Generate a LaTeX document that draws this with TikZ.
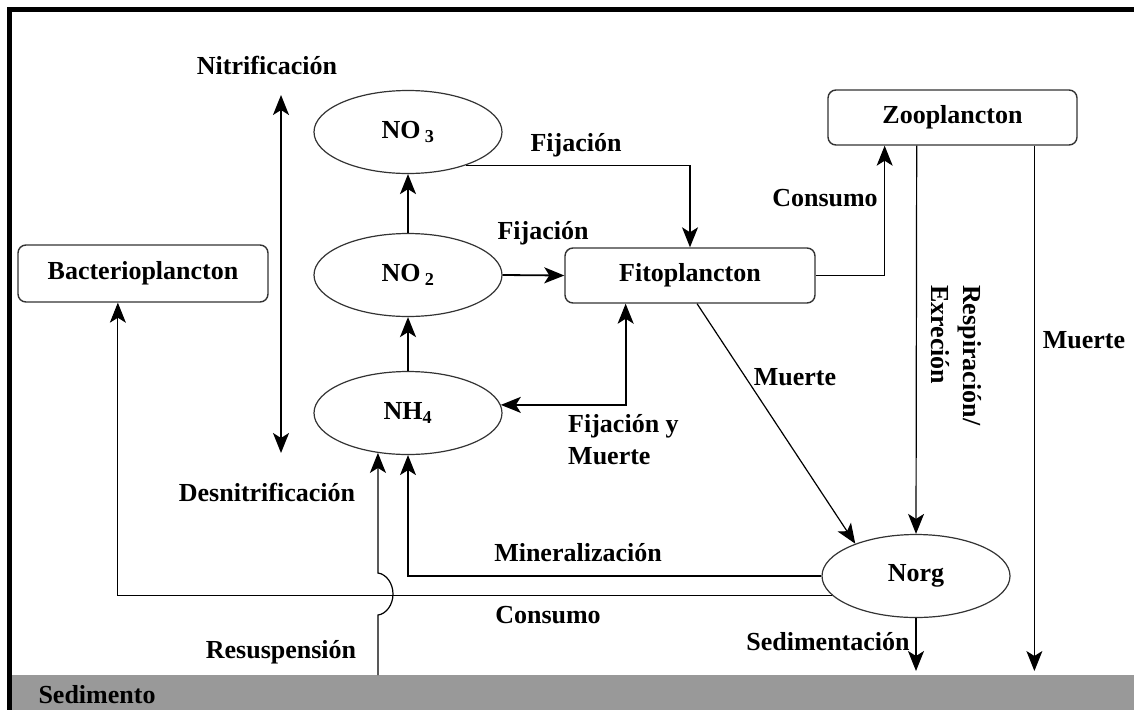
\documentclass[tikz,border=0pt]{standalone}
\usepackage{fontspec}
\setmainfont{Liberation Serif}
\usetikzlibrary{arrows.meta,shapes.geometric,calc}
\begin{document}
\begin{tikzpicture}[x=1pt,y=-1pt,
  tip/.tip={Stealth[length=20pt,width=16pt,inset=5pt]},
  lbl/.style={font=\fontsize{26}{32}\selectfont\bfseries, inner sep=0pt},
  pool/.style={ellipse, draw=black!80, line width=1.2pt, minimum width=188pt, minimum height=83pt, inner sep=0pt, font=\fontsize{26}{32}\selectfont\bfseries},
  stock/.style={rectangle, rounded corners=8pt, draw=black!80, line width=1.4pt, inner sep=0pt, font=\fontsize{26}{32}\selectfont\bfseries},
  flow/.style={line width=1.8pt, -tip},
  flow2/.style={line width=1.8pt, tip-tip},
  thin/.style={line width=1.2pt, -tip},
  hair/.style={line width=0.9pt, -tip}]
\useasboundingbox (0,0) rectangle (1134,710);
\fill[white] (0,0) rectangle (1134,710);
% frame and sediment band
\fill[black] (7,7) rectangle (1134,12);
\fill[black] (7,7) rectangle (12,710);
\fill[black!40] (12,675) rectangle (1134,710);

% pools
\node[pool] (NO3) at (408,132) {NO\,\textsubscript{3}};
\node[pool] (NO2) at (408,275) {NO\,\textsubscript{2}};
\node[pool] (NH4) at (408,413) {NH\textsubscript{4}};
\node[pool] (Norg) at (916,576) {Norg};

% stocks
\node[stock, minimum width=250pt, minimum height=57pt] (Bact) at (143,273.5) {Bacterioplancton};
\node[stock, minimum width=250pt, minimum height=55pt] (Fito) at (690,275.5) {Fitoplancton};
\node[stock, minimum width=249pt, minimum height=55pt] (Zoo) at (952.5,117.5) {Zooplancton};

% free ends
\coordinate (nitTop) at (281,95);
\coordinate (nitBot) at (281,453);
\coordinate (resBase) at (378,675);
\coordinate (sedLevel) at (0,671);

% labels
\node[lbl] (lNit) at (267,65) {Nitrificación};
\node[lbl] (lDes) at (267,492) {Desnitrificación};
\node[lbl] (lFij1) at (576,145) {Fijación};
\node[lbl] (lFij2) at (543,233) {Fijación};
\node[lbl] (lCon1) at (825,198) {Consumo};
\node[lbl, anchor=west, align=left] (lFM) at (568,440) {Fijación y\\Muerte};
\node[lbl] (lMue1) at (795,377) {Muerte};
\node[lbl, anchor=north west, align=left, rotate=-90] (lRes) at (982,285) {Respiración/\\Exreción};
\node[lbl] (lMue2) at (1084,340) {Muerte};
\node[lbl] (lMin) at (578,553) {Mineralización};
\node[lbl] (lCon2) at (548,615) {Consumo};
\node[lbl] (lResus) at (281,652) {Resuspensión};
\node[lbl] (lSedi) at (828,642) {Sedimentación};
\node[lbl] (lSed) at (97,695) {Sedimento};

% nitrification / denitrification
\draw[flow2] (nitTop) -- (nitBot);
\draw[flow] (NO2.north) -- (NO3.south);
\draw[flow] (NH4.north) -- (NO2.south);

% uptake by phytoplankton
\draw[flow] (NO2.east) -- (Fito.west);
\draw[thin] (NO3.-30) -| (Fito.north);
\draw[flow2] (NH4.5) -| ($(Fito.south west)!0.244!(Fito.south east)$);

% grazing
\draw[thin] (Fito.east) -| ($(Zoo.south west)!0.229!(Zoo.south east)$);

% mortality and excretion to organic nitrogen
\draw[thin] ($(Fito.south west)!0.528!(Fito.south east)$) -- (Norg.152);
\draw[thin] ($(Zoo.south west)!0.357!(Zoo.south east)$) -- (Norg.north);
\draw[thin] ($(Zoo.south west)!0.827!(Zoo.south east)$) coordinate (mz) -- (mz |- sedLevel);
\draw[thin] (Norg.south) -- (Norg.south |- sedLevel);

% mineralisation and bacterial uptake
\draw[thin] (Norg.west) -| (NH4.south);
\draw[hair] (Norg.193) -| ($(Bact.south west)!0.4!(Bact.south east)$);

% resuspension, jumping over the uptake line
\draw[thin] (resBase) -- (378,615)
  .. controls (386,614) and (393,605) .. (393,594)
  .. controls (393,583) and (386,574) .. (378,573) -- (NH4.233);
\end{tikzpicture}
\end{document}
